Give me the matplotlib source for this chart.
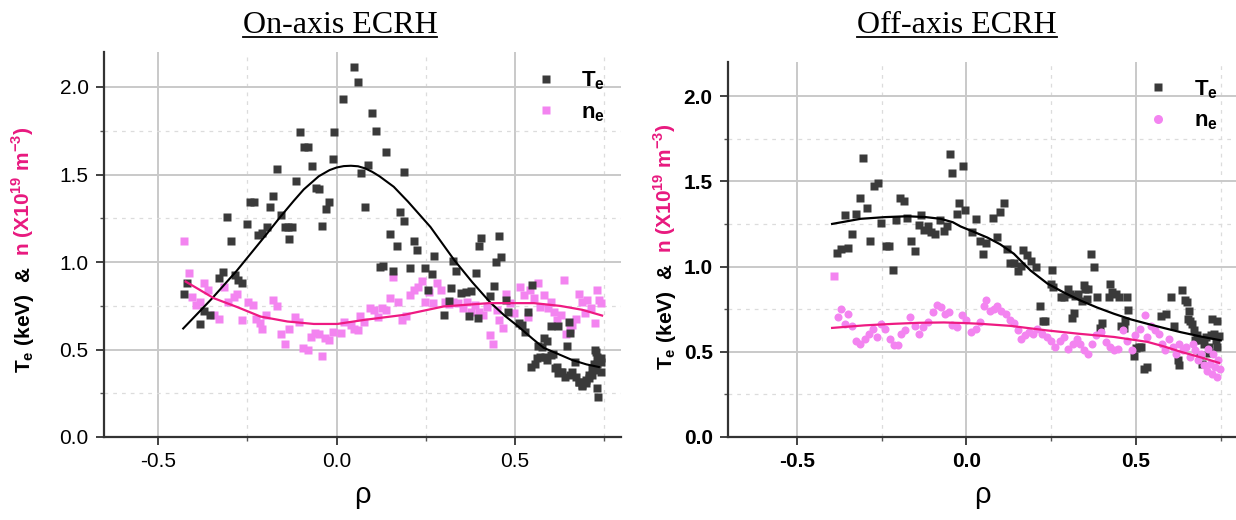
import matplotlib
matplotlib.use("Agg")
from matplotlib import pyplot as plt
from matplotlib.lines import Line2D
from matplotlib.ticker import MultipleLocator

plt.rcParams['font.family'] = ['Liberation Sans', 'DejaVu Sans']
plt.rcParams['axes.unicode_minus'] = False

# ---------------- On-axis ECRH data ----------------
on_te_rho = [-0.429, -0.418, -0.382, -0.373, -0.354, -0.329, -0.318, -0.285, -0.276, -0.264,
             -0.308, -0.296, -0.252, -0.244, -0.231, -0.219, -0.208, -0.188, -0.196, -0.177,
             -0.166, -0.155, -0.146, -0.136, -0.124, -0.134, -0.114, -0.102, -0.091, -0.080,
             -0.070, -0.059, -0.050, -0.042, -0.031, -0.022, -0.011, -0.008, 0.017, 0.048,
             0.059, 0.069, 0.089, 0.080, 0.100, 0.109, 0.122, 0.131, 0.138, 0.150,
             0.158, 0.168, 0.179, 0.188, 0.190, 0.207, 0.216, 0.225, 0.247, 0.266,
             0.273, 0.256, 0.300, 0.315, 0.320, 0.326, 0.334, 0.349, 0.362, 0.376,
             0.372, 0.390, 0.395, 0.400, 0.405, 0.430, 0.440, 0.448, 0.455, 0.462,
             0.475, 0.480, 0.510, 0.520, 0.529, 0.537, 0.548, 0.546, 0.557, 0.562,
             0.565, 0.571, 0.575, 0.580, 0.584, 0.590, 0.590, 0.600, 0.600, 0.607,
             0.612, 0.618, 0.620, 0.620, 0.630, 0.632, 0.640, 0.645, 0.651, 0.655,
             0.655, 0.660, 0.668, 0.670, 0.679, 0.680, 0.689, 0.689, 0.698, 0.698,
             0.707, 0.707, 0.715, 0.717, 0.721, 0.723, 0.726, 0.726, 0.730, 0.731,
             0.731, 0.732, 0.740, 0.740, 0.740]
on_te = [0.82, 0.88, 0.645, 0.72, 0.70, 0.906, 0.945, 0.925, 0.90, 0.878,
         1.256, 1.122, 1.217, 1.345, 1.345, 1.155, 1.164, 1.313, 1.198, 1.378,
         1.532, 1.269, 1.198, 1.198, 1.198, 1.132, 1.464, 1.742, 1.658, 1.658,
         1.548, 1.425, 1.416, 1.208, 1.301, 1.342, 1.59, 1.742, 1.929, 2.112,
         2.03, 1.508, 1.552, 1.317, 1.851, 1.75, 0.973, 0.979, 1.63, 1.16,
         0.95, 1.092, 1.288, 1.237, 1.513, 0.964, 1.122, 1.069, 0.965, 0.932,
         1.035, 0.84, 0.698, 0.778, 0.854, 1.007, 0.95, 0.822, 0.83, 0.837,
         0.692, 0.936, 0.679, 1.089, 1.14, 0.803, 0.864, 0.999, 1.146, 1.026,
         0.784, 0.712, 0.654, 0.64, 0.602, 0.717, 0.87, 0.40, 0.42, 0.45,
         0.52, 0.46, 0.517, 0.566, 0.46, 0.44, 0.55, 0.47, 0.635, 0.475,
         0.393, 0.40, 0.364, 0.635, 0.374, 0.37, 0.345, 0.52, 0.66, 0.595,
         0.355, 0.374, 0.43, 0.345, 0.316, 0.316, 0.292, 0.297, 0.326, 0.306,
         0.355, 0.335, 0.393, 0.355, 0.42, 0.498, 0.383, 0.488, 0.46, 0.42,
         0.278, 0.23, 0.45, 0.43, 0.37]

on_ne_rho = [-0.429, -0.415, -0.404, -0.393, -0.382, -0.371, -0.360, -0.343, -0.329, -0.316,
             -0.305, -0.288, -0.279, -0.264, -0.249, -0.234, -0.227, -0.216, -0.210, -0.199,
             -0.177, -0.166, -0.157, -0.146, -0.133, -0.116, -0.105, -0.094, -0.080, -0.072,
             -0.061, -0.050, -0.042, -0.033, -0.022, -0.011, 0.013, 0.022, 0.039, 0.050,
             0.061, 0.066, 0.078, 0.094, 0.105, 0.116, 0.127, 0.138, 0.150, 0.158,
             0.172, 0.183, 0.194, 0.205, 0.216, 0.227, 0.238, 0.249, 0.260, 0.271,
             0.282, 0.293, 0.305, 0.316, 0.327, 0.340, 0.354, 0.365, 0.377, 0.388,
             0.399, 0.410, 0.421, 0.430, 0.437, 0.449, 0.456, 0.465, 0.476, 0.487,
             0.498, 0.515, 0.526, 0.537, 0.543, 0.554, 0.565, 0.570, 0.581, 0.592,
             0.600, 0.609, 0.618, 0.629, 0.637, 0.642, 0.653, 0.660, 0.670, 0.678,
             0.687, 0.695, 0.703, 0.714, 0.725, 0.731, 0.736, 0.742]
on_ne = [1.122, 0.935, 0.80, 0.754, 0.773, 0.882, 0.84, 0.697, 0.677, 0.859,
         0.773, 0.80, 0.82, 0.668, 0.773, 0.754, 0.677, 0.653, 0.62, 0.697,
         0.782, 0.748, 0.586, 0.534, 0.62, 0.687, 0.658, 0.506, 0.50, 0.572,
         0.595, 0.59, 0.464, 0.563, 0.553, 0.60, 0.595, 0.658, 0.639, 0.62,
         0.61, 0.69, 0.658, 0.735, 0.725, 0.687, 0.735, 0.725, 0.792, 0.916,
         0.773, 0.668, 0.69, 0.81, 0.84, 0.859, 0.893, 0.773, 0.83, 0.763,
         0.882, 0.84, 0.773, 0.76, 0.773, 0.765, 0.735, 0.773, 0.716, 0.754,
         0.716, 0.697, 0.744, 0.582, 0.534, 0.725, 0.668, 0.624, 0.82, 0.763,
         0.706, 0.859, 0.81, 0.687, 0.84, 0.792, 0.878, 0.744, 0.81, 0.735,
         0.77, 0.716, 0.668, 0.697, 0.897, 0.59, 0.62, 0.64, 0.677, 0.82,
         0.773, 0.706, 0.782, 0.735, 0.649, 0.84, 0.782, 0.763]

on_te_fit_rho = [-0.43, -0.35, -0.28, -0.236, -0.2, -0.157, -0.12, -0.092, -0.05, -0.02,
                 0.0, 0.02, 0.04, 0.06, 0.08, 0.10, 0.12, 0.16, 0.2, 0.263,
                 0.33, 0.38, 0.43, 0.47, 0.51, 0.55, 0.58, 0.62, 0.66, 0.70, 0.735]
on_te_fit = [0.62, 0.79, 0.95, 1.06, 1.15, 1.26, 1.35, 1.415, 1.49, 1.525,
             1.54, 1.548, 1.55, 1.547, 1.535, 1.515, 1.49, 1.43, 1.345, 1.20,
             1.01, 0.885, 0.77, 0.695, 0.63, 0.56, 0.51, 0.475, 0.44, 0.415, 0.40]
on_ne_fit_rho = [-0.423, -0.344, -0.278, -0.213, -0.138, -0.064, 0.002, 0.077, 0.189, 0.30,
                 0.427, 0.553, 0.627, 0.688, 0.744]
on_ne_fit = [0.888, 0.793, 0.742, 0.688, 0.66, 0.646, 0.646, 0.669, 0.698, 0.746,
             0.765, 0.765, 0.749, 0.727, 0.694]

# ---------------- Off-axis ECRH data ----------------
off_te_rho = [-0.383, -0.371, -0.348, -0.359, -0.338, -0.327, -0.315, -0.305, -0.294, -0.283,
              -0.272, -0.261, -0.252, -0.238, -0.228, -0.217, -0.209, -0.195, -0.183, -0.174,
              -0.162, -0.153, -0.141, -0.133, -0.125, -0.114, -0.104, -0.093, -0.079, -0.066,
              -0.058, -0.049, -0.041, -0.029, -0.021, -0.009, -0.005, 0.017, 0.029, 0.041,
              0.050, 0.058, 0.079, 0.089, 0.100, 0.110, 0.119, 0.130, 0.141, 0.151,
              0.162, 0.168, 0.180, 0.191, 0.206, 0.253, 0.250, 0.255, 0.300, 0.305,
              0.280, 0.288, 0.320, 0.330, 0.340, 0.350, 0.360, 0.357, 0.368, 0.376,
              0.216, 0.225, 0.232, 0.310, 0.318, 0.347, 0.386, 0.394, 0.400, 0.420,
              0.423, 0.430, 0.440, 0.450, 0.455, 0.465, 0.468, 0.475, 0.477, 0.494,
              0.500, 0.509, 0.515, 0.525, 0.532, 0.575, 0.590, 0.604, 0.612, 0.624,
              0.626, 0.637, 0.645, 0.650, 0.655, 0.652, 0.660, 0.665, 0.670, 0.674,
              0.681, 0.690, 0.691, 0.695, 0.700, 0.706, 0.715, 0.716, 0.720, 0.725,
              0.730, 0.735, 0.740, 0.740, 0.745]
off_te = [1.08, 1.104, 1.109, 1.303, 1.191, 1.309, 1.402, 1.635, 1.342, 1.148,
          1.475, 1.49, 1.254, 1.119, 1.123, 0.977, 1.275, 1.402, 1.383, 1.285,
          1.152, 1.09, 1.246, 1.303, 1.215, 1.24, 1.201, 1.191, 1.275, 1.211,
          1.24, 1.66, 1.549, 1.309, 1.373, 1.588, 1.332, 1.205, 1.279, 1.152,
          1.074, 1.139, 1.285, 1.172, 1.318, 1.373, 1.104, 1.021, 1.021, 0.973,
          1.006, 1.10, 1.07, 1.035, 0.996, 0.98, 0.90, 0.88, 0.87, 0.84,
          0.82, 0.82, 0.83, 0.84, 0.80, 0.87, 0.87, 0.81, 1.076, 1.0,
          0.766, 0.683, 0.683, 0.70, 0.73, 0.89, 0.824, 0.64, 0.668, 0.82,
          0.90, 0.85, 0.84, 0.82, 0.654, 0.64, 0.68, 0.82, 0.746, 0.473,
          0.52, 0.527, 0.53, 0.40, 0.41, 0.71, 0.72, 0.824, 0.65, 0.45,
          0.42, 0.86, 0.806, 0.79, 0.742, 0.694, 0.683, 0.664, 0.63, 0.567,
          0.597, 0.479, 0.567, 0.43, 0.548, 0.587, 0.528, 0.49, 0.597, 0.694,
          0.606, 0.567, 0.68, 0.528, 0.59]

off_ne_rho = [-0.391, -0.380, -0.369, -0.357, -0.348, -0.336, -0.325, -0.313, -0.299, -0.287,
              -0.276, -0.264, -0.253, -0.241, -0.226, -0.214, -0.203, -0.194, -0.180, -0.165,
              -0.153, -0.141, -0.128, -0.114, -0.099, -0.087, -0.075, -0.064, -0.052, -0.041,
              -0.029, -0.014, 0.000, 0.015, 0.027, 0.041, 0.052, 0.058, 0.070, 0.081,
              0.090, 0.102, 0.116, 0.128, 0.139, 0.153, 0.162, 0.174, 0.185, 0.197,
              0.209, 0.223, 0.238, 0.249, 0.261, 0.276, 0.288, 0.299, 0.313, 0.325,
              0.336, 0.348, 0.359, 0.371, 0.383, 0.396, 0.411, 0.423, 0.435, 0.446,
              0.461, 0.475, 0.487, 0.498, 0.512, 0.527, 0.533, 0.545, 0.556, 0.568,
              0.577, 0.585, 0.597, 0.609, 0.617, 0.626, 0.638, 0.649, 0.658, 0.667,
              0.675, 0.684, 0.693, 0.701, 0.709, 0.713, 0.719, 0.724, 0.728, 0.733,
              0.740, 0.742, 0.748]
off_ne = [0.947, 0.703, 0.752, 0.664, 0.723, 0.654, 0.566, 0.547, 0.576, 0.605,
          0.635, 0.586, 0.664, 0.635, 0.576, 0.537, 0.537, 0.605, 0.625, 0.703,
          0.654, 0.605, 0.645, 0.674, 0.732, 0.777, 0.762, 0.723, 0.732, 0.66,
          0.645, 0.713, 0.684, 0.615, 0.635, 0.674, 0.766, 0.805, 0.742, 0.752,
          0.771, 0.742, 0.723, 0.684, 0.668, 0.625, 0.576, 0.596, 0.615, 0.605,
          0.635, 0.605, 0.586, 0.566, 0.527, 0.566, 0.586, 0.518, 0.547, 0.576,
          0.547, 0.512, 0.488, 0.547, 0.596, 0.615, 0.557, 0.527, 0.508, 0.518,
          0.625, 0.566, 0.508, 0.596, 0.635, 0.713, 0.586, 0.654, 0.625, 0.605,
          0.547, 0.508, 0.576, 0.527, 0.488, 0.547, 0.508, 0.527, 0.469, 0.547,
          0.508, 0.449, 0.488, 0.42, 0.39, 0.518, 0.43, 0.371, 0.488, 0.41,
          0.352, 0.449, 0.40]

off_te_fit_rho = [-0.396, -0.312, -0.24, -0.174, -0.12, -0.076, -0.04, -0.017, 0.02, 0.062,
                  0.10, 0.14, 0.189, 0.239, 0.29, 0.337, 0.385, 0.435, 0.485, 0.534,
                  0.585, 0.632, 0.69, 0.75]
off_te_fit = [1.25, 1.28, 1.29, 1.295, 1.29, 1.28, 1.26, 1.235, 1.205, 1.17,
              1.13, 1.075, 0.977, 0.90, 0.845, 0.80, 0.76, 0.723, 0.69, 0.664,
              0.638, 0.615, 0.59, 0.567]
off_ne_fit_rho = [-0.396, -0.3, -0.214, -0.14, -0.066, 0.0, 0.042, 0.13, 0.239, 0.335,
                  0.435, 0.534, 0.585, 0.632, 0.69, 0.745]
off_ne_fit = [0.64, 0.655, 0.664, 0.67, 0.672, 0.668, 0.664, 0.652, 0.625, 0.605,
              0.587, 0.558, 0.53, 0.50, 0.468, 0.435]

te_col = '#3a3a3a'
ne_col = '#f384f0'
ne_fit_col = '#ee1a82'
pink_txt = '#e8197f'

W, H = 1236, 520
fig = plt.figure(figsize=(W / 100, H / 100), dpi=100)
ax1 = fig.add_axes([104 / W, 83 / H, 517 / W, 385 / H])
ax2 = fig.add_axes([728 / W, 83 / H, 508 / W, 375 / H])


def style(ax, xlim, bold):
    ax.set_xlim(*xlim)
    ax.set_ylim(0, 2.2)
    ax.xaxis.set_major_locator(MultipleLocator(0.5))
    ax.xaxis.set_minor_locator(MultipleLocator(0.25))
    ax.yaxis.set_major_locator(MultipleLocator(0.5))
    ax.yaxis.set_minor_locator(MultipleLocator(0.25))
    ax.grid(which='major', color='#c9c9c9', lw=1.4, ls='-')
    ax.grid(which='minor', color='#dcdcdc', lw=0.9, ls=(0, (3, 4)))
    ax.set_axisbelow(True)
    for s in ['top', 'right']:
        ax.spines[s].set_visible(False)
    for s in ['left', 'bottom']:
        ax.spines[s].set_color('#333333')
        ax.spines[s].set_linewidth(1.6)
    ax.tick_params(which='major', direction='out', length=6, width=1.3,
                   color='#333333', labelsize=15, pad=5)
    ax.tick_params(which='minor', direction='out', length=3, width=1.0, color='#555555')
    w = 'bold' if bold else 'normal'
    for lab in ax.get_xticklabels() + ax.get_yticklabels():
        lab.set_fontweight(w)
    ax.set_xlabel('ρ', fontsize=21, labelpad=7)


style(ax1, (-0.652, 0.797), False)
style(ax2, (-0.703, 0.795), True)

# on-axis
ax1.plot(on_ne_rho, on_ne, ls='none', marker='s', ms=5.2, color=ne_col, mec='none')
ax1.plot(on_te_rho, on_te, ls='none', marker='s', ms=5.2, color=te_col, mec='none')
ax1.plot(on_te_fit_rho, on_te_fit, color='black', lw=1.5)
ax1.plot(on_ne_fit_rho, on_ne_fit, color=ne_fit_col, lw=1.6)

# off-axis
ax2.plot(off_te_rho, off_te, ls='none', marker='s', ms=5.2, color=te_col, mec='none')
ax2.plot(off_ne_rho[:1], off_ne[:1], ls='none', marker='s', ms=5.2, color=ne_col, mec='none')
ax2.plot(off_ne_rho[1:], off_ne[1:], ls='none', marker='o', ms=5.8, color=ne_col, mec='none')
ax2.plot(off_te_fit_rho, off_te_fit, color='black', lw=1.6)
ax2.plot(off_ne_fit_rho, off_ne_fit, color=ne_fit_col, lw=1.6)

# legends
for ax, mk, anchor in [(ax1, 's', (0.833, 0.955)), (ax2, 'o', (0.825, 0.957))]:
    h_te = Line2D([], [], ls='none', marker='s', ms=6, color=te_col, mec='none')
    h_ne = Line2D([], [], ls='none', marker=mk, ms=6.5 if mk == 'o' else 6,
                  color=ne_col, mec='none')
    ax.legend([h_te, h_ne], [r'T$_\mathregular{e}$', r'n$_\mathregular{e}$'],
              loc='upper left', bbox_to_anchor=anchor, frameon=False,
              borderpad=0, borderaxespad=0, handlelength=1.0, handletextpad=1.1,
              labelspacing=0.45, prop={'size': 16, 'weight': 'bold'})

# titles with underline
fig.canvas.draw()
renderer = fig.canvas.get_renderer()
for cx, txt in [(340, 'On-axis ECRH'), (957, 'Off-axis ECRH')]:
    t = fig.text(cx / W, 1 - 33 / H, txt, ha='center', va='baseline',
                 fontsize=23, family='Liberation Serif')
    bb = t.get_window_extent(renderer)
    fig.add_artist(Line2D([bb.x0 / W, bb.x1 / W], [1 - 37 / H, 1 - 37 / H],
                          color='black', lw=1.3, transform=fig.transFigure))

# two-colour y labels
for bx, by in [(30, 373), (672, 370)]:
    t1 = fig.text(bx / W, 1 - by / H, r'T$_\mathregular{e}$ (keV)  &',
                  rotation=90, rotation_mode='anchor', ha='left', va='baseline',
                  fontsize=15, fontweight='bold', color='black')
    bb = t1.get_window_extent(renderer)
    fig.text(bx / W, (bb.y1 + 10) / H, r'n (X10$^\mathregular{19}$ m$^\mathregular{-3}$)',
             rotation=90, rotation_mode='anchor', ha='left', va='baseline',
             fontsize=15, fontweight='bold', color=pink_txt)

fig.savefig('out.png', dpi=100)
